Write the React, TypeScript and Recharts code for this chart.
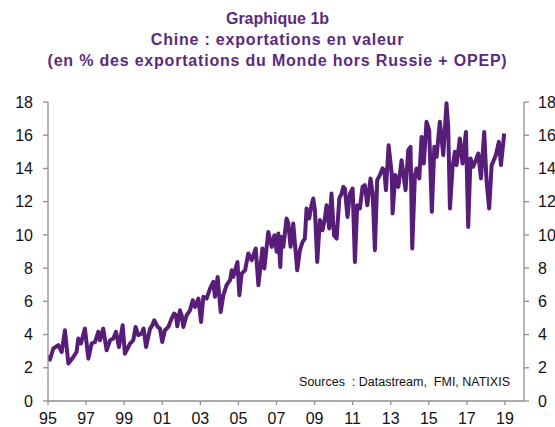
import React from "react";
import { LineChart, Line, XAxis, YAxis } from "recharts";

// Decimal-year positions of the readings (1995 - 2007)
const datesA = [
  1995.02, 1995.10, 1995.28, 1995.54, 1995.72, 1995.89, 1996.07, 1996.33, 1996.50, 1996.59,
  1996.73, 1996.94, 1997.12, 1997.29, 1997.47, 1997.64, 1997.73, 1997.90, 1998.08, 1998.26,
  1998.43, 1998.57, 1998.73, 1998.92, 1999.04, 1999.31, 1999.48, 1999.60, 1999.74, 1999.92,
  2000.02, 2000.15, 2000.36, 2000.48, 2000.58, 2000.76, 2000.88, 2001.00, 2001.14, 2001.32,
  2001.49, 2001.62, 2001.72, 2001.79, 2001.93, 2002.02, 2002.11, 2002.28, 2002.46, 2002.60,
  2002.72, 2002.90, 2003.04, 2003.16, 2003.33, 2003.51, 2003.68, 2003.77, 2003.91, 2004.07,
  2004.21, 2004.38, 2004.56, 2004.65, 2004.73, 2004.95, 2005.05, 2005.17, 2005.35, 2005.52,
  2005.70, 2005.91, 2006.05, 2006.26, 2006.36, 2006.57, 2006.75, 2006.89, 2007.01, 2007.10,
  2007.20,
];
// China share of world exports excl. Russia + OPEP (%), 1995 - 2007
const shareA = [
  2.75, 2.49, 3.16, 3.36, 2.95, 4.26, 2.25, 2.65, 2.95, 3.76,
  3.46, 4.36, 2.55, 3.46, 3.55, 4.16, 3.66, 4.36, 3.05, 3.66,
  3.76, 4.16, 3.25, 4.56, 2.85, 3.46, 3.66, 4.46, 3.96, 4.06,
  4.36, 3.25, 4.36, 4.56, 4.86, 4.46, 4.36, 3.55, 4.26, 4.46,
  4.96, 5.26, 5.16, 4.5, 5.46, 5.16, 4.46, 5.16, 5.46, 6.07,
  5.66, 6.17, 4.76, 6.27, 6.17, 6.77, 7.17, 6.27, 7.47, 5.36,
  6.37, 6.97, 7.27, 7.87, 7.47, 8.37, 6.37, 7.67, 7.87, 8.88,
  8.48, 9.18, 6.97, 9.18, 7.98, 10.18, 9.28, 9.98, 8.98, 10.08,
  8.07,
];
// Decimal-year positions of the readings (2007 - 2019)
const datesB = [
  2007.27, 2007.36, 2007.53, 2007.62, 2007.74, 2007.88, 2007.97, 2008.09, 2008.23, 2008.37,
  2008.49, 2008.58, 2008.72, 2008.84, 2008.93, 2009.02, 2009.14, 2009.28, 2009.42, 2009.54,
  2009.63, 2009.77, 2009.89, 2010.02, 2010.16, 2010.30, 2010.42, 2010.51, 2010.59, 2010.73,
  2010.86, 2011.00, 2011.12, 2011.24, 2011.38, 2011.52, 2011.64, 2011.77, 2011.94, 2012.05,
  2012.17, 2012.29, 2012.43, 2012.57, 2012.66, 2012.75, 2012.89, 2013.05, 2013.10, 2013.24,
  2013.40, 2013.57, 2013.66, 2013.78, 2013.92, 2014.04, 2014.13, 2014.27, 2014.36, 2014.50,
  2014.62, 2014.74, 2014.88, 2015.02, 2015.16, 2015.29, 2015.41, 2015.58, 2015.76, 2015.93,
  2016.02, 2016.11, 2016.25, 2016.37, 2016.46, 2016.63, 2016.77, 2016.95, 2017.07, 2017.19,
  2017.33, 2017.47, 2017.60, 2017.74, 2017.91, 2018.03, 2018.17, 2018.30, 2018.38, 2018.52,
  2018.68, 2018.79, 2018.96,
];
// China share (%), 2007 - 2019
const shareB = [
  9.88, 9.28, 10.99, 10.69, 9.28, 10.69, 9.48, 7.87, 9.08, 9.58,
  9.78, 11.59, 10.99, 11.79, 12.19, 11.49, 8.37, 10.89, 10.28, 10.99,
  11.79, 10.39, 12.49, 9.98, 9.78, 12.19, 12.49, 12.89, 12.79, 11.08,
  12.49, 12.79, 8.37, 11.79, 11.59, 12.89, 12.99, 11.79, 13.4, 12.49,
  9.08, 13.3, 13.6, 14.0, 13.9, 12.69, 15.4, 13.7, 11.29, 13.6,
  12.89, 14.5, 13.7, 12.69, 15.1, 15.3, 9.18, 13.6, 14.0, 13.4,
  15.9, 14.3, 16.81, 16.31, 11.39, 15.3, 14.7, 16.81, 14.8, 17.92,
  16.5, 11.59, 14.1, 15.0, 14.2, 15.8, 14.3, 16.2, 10.48, 14.6,
  14.1, 14.5, 14.9, 13.4, 16.2, 13.3, 11.59, 14.2, 14.4, 14.8,
  15.6, 14.2, 16.1,
];

const xTicks = [1995, 1997, 1999, 2001, 2003, 2005, 2007, 2009, 2011, 2013, 2015, 2017, 2019];
const yTicks = [0, 2, 4, 6, 8, 10, 12, 14, 16, 18];
const titleLines = [
  "Graphique 1b",
  "Chine : exportations en valeur",
  "(en % des exportations du Monde hors Russie + OPEP)",
];
const sourceText = "Sources  : Datastream,  FMI, NATIXIS";

const dates = [...datesA, ...datesB];
const share = [...shareA, ...shareB];
const data = dates.map((t, i) => ({ t, v: share[i] }));

const FONT = '"Liberation Sans", Arial, sans-serif';
const AXIS = "#8f8f8f";
const PURPLE = "#571D78";

export default function App() {
  const tickStyle = { fontSize: 16, fill: "#111", fontFamily: FONT };
  return (
    <div
      style={{
        position: "absolute",
        left: 0,
        top: 0,
        width: 555,
        height: 427,
        background: "#fff",
        fontFamily: FONT,
      }}
    >
      <div
        style={{
          position: "absolute",
          left: 0,
          top: 8,
          width: 555,
          textAlign: "center",
          color: "#5B2A7E",
          fontWeight: "bold",
          fontSize: 16,
          lineHeight: "21px",
        }}
      >
        {titleLines.map((l, i) => (
          <div key={l} style={{ letterSpacing: i === 0 ? 0 : 0.8 }}>
            {l}
          </div>
        ))}
      </div>
      <LineChart
        width={555}
        height={427}
        data={data}
        margin={{ top: 102, right: 0, bottom: 0, left: 0 }}
      >
        <XAxis
          dataKey="t"
          type="number"
          domain={[1995, 2020]}
          ticks={xTicks}
          tickFormatter={(v: number) => String(v % 100).padStart(2, "0")}
          height={26}
          tick={tickStyle}
          tickSize={4}
          tickMargin={8}
          stroke={AXIS}
          strokeWidth={1.3}
          allowDataOverflow
          interval={0}
        />
        <YAxis
          yAxisId="left"
          type="number"
          domain={[0, 18]}
          ticks={yTicks}
          width={48}
          tick={tickStyle}
          tickSize={5}
          tickMargin={10}
          stroke={AXIS}
          strokeWidth={1.3}
          interval={0}
        />
        <YAxis
          yAxisId="right"
          type="number"
          orientation="right"
          domain={[0, 18]}
          ticks={yTicks}
          width={31}
          tick={{ ...tickStyle, textAnchor: "start" }}
          tickSize={5}
          tickMargin={9}
          stroke={AXIS}
          strokeWidth={1.3}
          interval={0}
        />
        <Line
          yAxisId="right"
          type="linear"
          dataKey="v"
          stroke="none"
          strokeWidth={0}
          dot={false}
          activeDot={false}
          legendType="none"
          isAnimationActive={false}
        />
        <Line
          yAxisId="left"
          type="linear"
          dataKey="v"
          stroke={PURPLE}
          strokeWidth={4}
          strokeLinejoin="round"
          dot={false}
          isAnimationActive={false}
        />
      </LineChart>
      <div
        style={{
          position: "absolute",
          right: 45,
          top: 375,
          fontSize: 12.5,
          color: "#111",
          whiteSpace: "pre",
        }}
      >
        {sourceText}
      </div>
    </div>
  );
}
